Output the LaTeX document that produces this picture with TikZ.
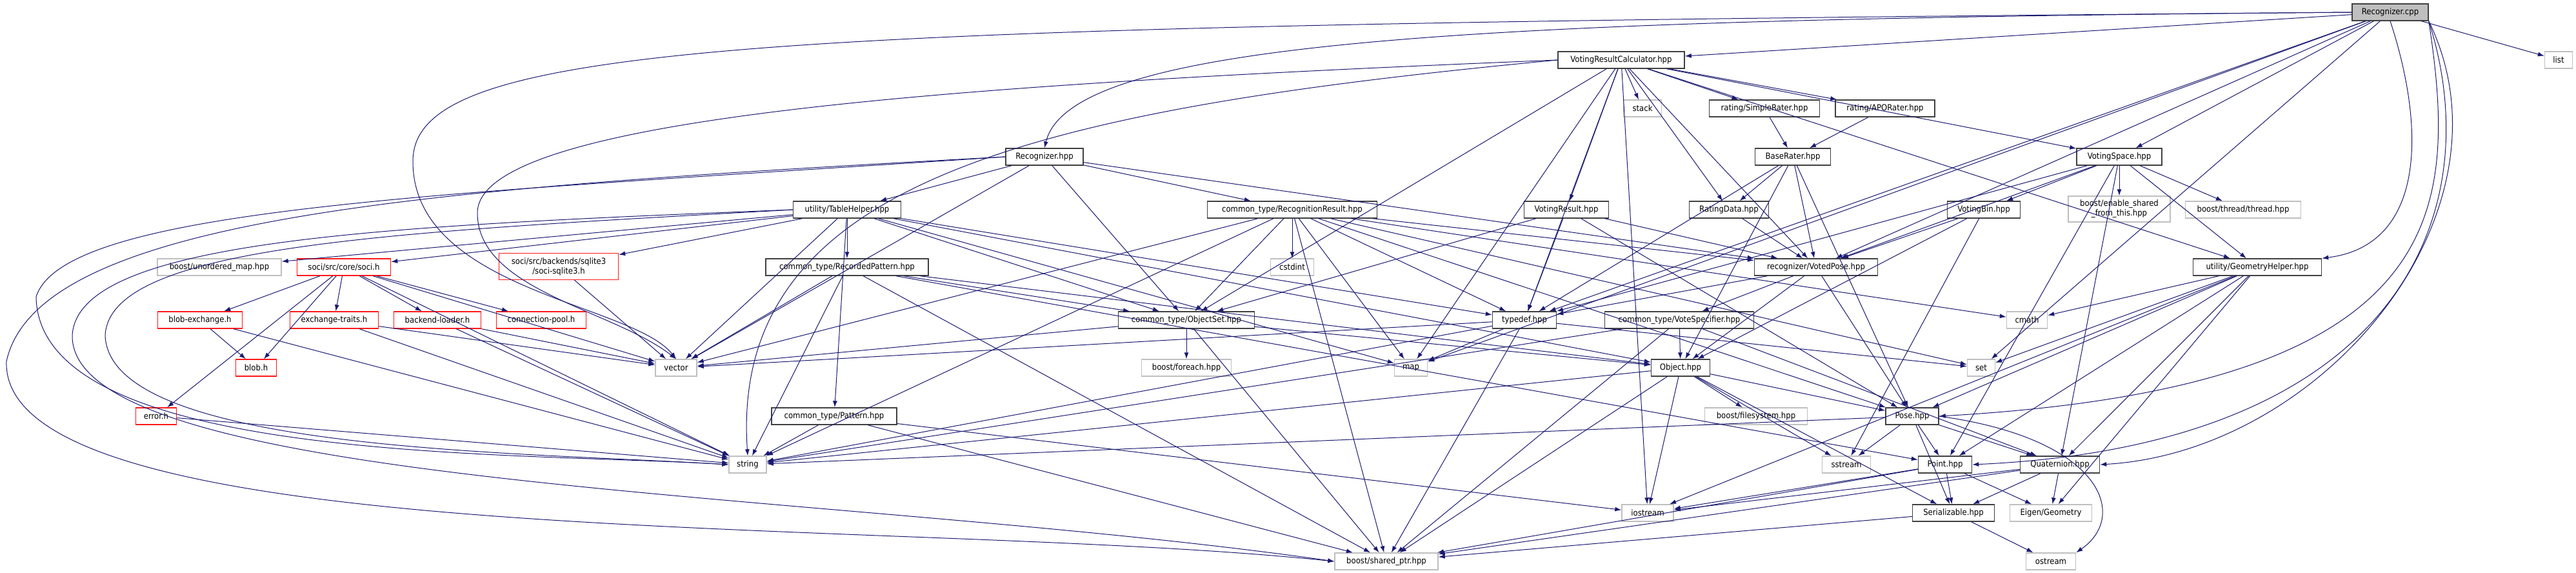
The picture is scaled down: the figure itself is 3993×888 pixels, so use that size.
\documentclass[tikz,border=0pt]{standalone}
\usepackage{fontspec}
\newfontfamily\dxfont{DejaVu Sans Condensed}
\usetikzlibrary{arrows.meta}
\definecolor{edgeblue}{HTML}{191970}
\definecolor{framegray}{HTML}{BFBFBF}
\definecolor{framedark}{HTML}{404040}
\tikzset{
  every picture/.style={font={\dxfont\fontsize{13}{15}\selectfont}, >={Latex[length=10pt,width=7pt]}},
  inc/.style={draw=edgeblue, line width=1pt, ->},
  every edge/.style={inc},
  file/.style={rectangle, draw=framedark, line width=1.4pt, inner sep=0pt,
    minimum height=26pt, align=center, fill=white},
  sysfile/.style={file, draw=framegray},
  truncfile/.style={file, draw=red!90!white},
  rootfile/.style={file, fill=framegray}}

\begin{document}
\begin{tikzpicture}[x=1pt, y=-1pt]
  \useasboundingbox (0,0) rectangle (3993,888);

  % top rows
  \node [rootfile, minimum width=118pt] (cpp) at (3705,19) {Recognizer.cpp};
  \node [sysfile, minimum width=43pt] (list) at (3966,93) {list};
  \node [file, minimum width=196pt] (vrc) at (2513,93) {VotingResultCalculator.hpp};
  \node [sysfile, minimum width=59pt] (stack) at (2546,168) {stack};
  \node [file, minimum width=171pt] (simplerater) at (2735,168) {rating/SimpleRater.hpp};
  \node [file, minimum width=154pt] (aporater) at (2922,168) {rating/APORater.hpp};
  \node [file, minimum width=117pt] (baserater) at (2779,243) {BaseRater.hpp};
  \node [file, minimum width=120pt] (recogh) at (1619,243) {Recognizer.hpp};
  \node [file, minimum width=132pt] (votingspace) at (3285,243) {VotingSpace.hpp};
  \node [file, minimum width=123pt] (ratingdata) at (2680,325) {RatingData.hpp};
  \node [file, minimum width=131pt] (votingresult) at (2428,325) {VotingResult.hpp};
  \node [file, minimum width=113pt] (votingbin) at (3075,325) {VotingBin.hpp};
  \node [sysfile, minimum width=158pt, minimum height=40pt] (sharedthis) at (3285,324)
    {boost/enable\_shared\\\_from\_this.hpp};
  \node [sysfile, minimum width=179pt] (thread) at (3477,325) {boost/thread/thread.hpp};
  \node [file, minimum width=167pt] (tablehelper) at (1313,325) {utility/TableHelper.hpp};
  \node [file, minimum width=263pt] (recresult) at (2003,325) {common\_type/RecognitionResult.hpp};

  % middle rows
  \node [file, minimum width=191pt] (votedpose) at (2815,414) {recognizer/VotedPose.hpp};
  \node [file, minimum width=199pt] (geomhelper) at (3499,414) {utility/GeometryHelper.hpp};
  \node [sysfile, minimum width=67pt] (cstdint) at (2003,414) {cstdint};
  \node [file, minimum width=252pt] (recpattern) at (1313,414) {common\_type/RecordedPattern.hpp};
  \node [sysfile, minimum width=192pt] (unorderedmap) at (340,414) {boost/unordered\_map.hpp};
  \node [truncfile, minimum width=145pt] (soci) at (533,414) {soci/src/core/soci.h};
  \node [truncfile, minimum width=185pt, minimum height=41pt] (sqlite) at (866,413)
    {soci/src/backends/sqlite3\\/soci-sqlite3.h};
  \node [truncfile, minimum width=131pt] (blobexchange) at (310,496) {blob-exchange.h};
  \node [truncfile, minimum width=137pt] (exchtraits) at (518,496) {exchange-traits.h};
  \node [truncfile, minimum width=135pt] (backendloader) at (678,496) {backend-loader.h};
  \node [truncfile, minimum width=139pt] (connpool) at (839,496) {connection-pool.h};
  \node [file, minimum width=211pt] (objectset) at (1839,496) {common\_type/ObjectSet.hpp};
  \node [file, minimum width=99pt] (typedef) at (2363,496) {typedef.hpp};
  \node [file, minimum width=231pt] (votespec) at (2603,496) {common\_type/VoteSpecifier.hpp};
  \node [sysfile, minimum width=63pt] (cmath) at (3142,496) {cmath};

  % lower rows
  \node [truncfile, minimum width=63pt] (blob) at (397,570) {blob.h};
  \node [sysfile, minimum width=64pt] (vector) at (1048,570) {vector};
  \node [sysfile, minimum width=139pt] (foreach) at (1839,570) {boost/foreach.hpp};
  \node [sysfile, minimum width=51pt] (map) at (2187,570) {map};
  \node [file, minimum width=91pt] (object) at (2605,570) {Object.hpp};
  \node [sysfile, minimum width=43pt] (set) at (3071,570) {set};
  \node [truncfile, minimum width=63pt] (error) at (242,645) {error.h};
  \node [file, minimum width=194pt] (pattern) at (1293,645) {common\_type/Pattern.hpp};
  \node [sysfile, minimum width=159pt] (filesystem) at (2722,645) {boost/filesystem.hpp};
  \node [file, minimum width=82pt] (pose) at (2964,645) {Pose.hpp};
  \node [sysfile, minimum width=58pt] (string) at (1159,720) {string};
  \node [sysfile, minimum width=75pt] (sstream) at (2862,720) {sstream};
  \node [file, minimum width=83pt] (point) at (3015,720) {Point.hpp};
  \node [file, minimum width=123pt] (quaternion) at (3193,720) {Quaternion.hpp};
  \node [sysfile, minimum width=80pt] (iostream) at (2554,795) {iostream};
  \node [file, minimum width=127pt] (serializable) at (3028,795) {Serializable.hpp};
  \node [sysfile, minimum width=127pt] (eigen) at (3179,795) {Eigen/Geometry};
  \node [sysfile, minimum width=160pt] (sharedptr) at (2149,870) {boost/shared\_ptr.hpp};
  \node [sysfile, minimum width=77pt] (ostream) at (3179,870) {ostream};

  % includes of Recognizer.cpp
  \path (cpp) edge (list) edge (vrc) edge (votingspace) edge (votedpose)
    edge (map) edge (set) edge (typedef);
  \draw [inc] (cpp.west) .. controls (2300,30) and (1660,60) .. (recogh.north);
  \draw [inc] (cpp.west) .. controls (1200,40) and (640,60) .. (640,250)
    .. controls (640,450) and (980,470) .. (vector.north);
  \draw [inc] (cpp.south) .. controls (3760,200) and (3760,380) .. (geomhelper.north east);
  \draw [inc] (cpp.south east) .. controls (3810,330) and (3800,600) .. (pose.east);
  \draw [inc] (cpp.south east) .. controls (3860,330) and (3720,690) .. (point.east);
  \draw [inc] (cpp.south east) .. controls (3910,330) and (3600,700) .. (quaternion.east);

  % headers
  \path (vrc) edge (stack) edge (simplerater) edge (aporater) edge (ratingdata)
    edge (votingresult) edge (votingspace) edge (votedpose) edge (typedef)
    edge (objectset) edge (iostream) edge (map) edge (geomhelper);
  \draw [inc] (vrc.west) .. controls (1500,130) and (740,180) .. (740,330)
    .. controls (740,450) and (950,480) .. (vector.north);
  \draw [inc] (vrc.west) .. controls (1600,170) and (1130,280) .. (string.north);
  \path (simplerater) edge (baserater);
  \path (aporater) edge (baserater);
  \path (baserater) edge (ratingdata) edge (votedpose) edge (typedef) edge (object) edge (pose);
  \path (ratingdata) edge (votedpose);
  \path (votingresult) edge (votedpose) edge (objectset) edge (typedef) edge (pose);
  \path (votingbin) edge (votedpose) edge (object) edge (sstream);
  \path (votingspace) edge (votingbin) edge (sharedthis) edge (thread) edge (votedpose)
    edge (typedef) edge (geomhelper) edge (point) edge (quaternion);
  \path (geomhelper) edge (cmath) edge (set) edge (pose) edge (point) edge (quaternion)
    edge (eigen) edge (iostream);
  \path (recogh) edge (tablehelper) edge (recresult) edge (votedpose) edge (objectset)
    edge (vector);
  \draw [inc] (recogh.west) .. controls (700,290) and (60,330) .. (10,560)
    .. controls (0,860) and (1400,800) .. (sharedptr.west);
  \draw [inc] (recogh.west) .. controls (700,300) and (100,320) .. (56,460)
    .. controls (60,720) and (800,700) .. (string.west);
  \path (tablehelper) edge (soci) edge (sqlite) edge (unorderedmap) edge (recpattern)
    edge (pattern) edge (objectset) edge (vector) edge (typedef) edge (map) edge (object);
  \draw [inc] (tablehelper.west) .. controls (600,350) and (120,370) .. (112,520)
    .. controls (110,760) and (1300,760) .. (sharedptr.west);
  \draw [inc] (tablehelper.west) .. controls (600,360) and (170,380) .. (163,520)
    .. controls (170,700) and (800,700) .. (string.west);
  \path (recresult) edge (cstdint) edge (objectset) edge (typedef) edge (votedpose)
    edge (pose) edge (vector) edge (string) edge (map) edge (sharedptr) edge (set) edge (cmath);
  \path (recpattern) edge (objectset) edge (vector) edge (string) edge (sharedptr)
    edge (point) edge (object);
  \path (pattern) edge (string) edge (sharedptr) edge (iostream);
  \path (objectset) edge (foreach) edge (object) edge (vector) edge (sharedptr);
  \path (typedef) edge (vector) edge (map) edge (set) edge (sharedptr) edge (string);
  \path (votedpose) edge (typedef) edge (votespec) edge (object) edge (pose);
  \path (votespec) edge (object) edge (string) edge (sharedptr) edge (quaternion);
  \path (object) edge (pose) edge (filesystem) edge (string) edge (sstream)
    edge (iostream) edge (serializable) edge (sharedptr);
  \path (pose) edge (point) edge (quaternion) edge (sstream) edge (serializable)
    edge (string);
  \draw [inc] (pose.east) .. controls (3260,680) and (3300,800) .. (ostream.north east);
  \path (point) edge (iostream) edge (serializable) edge (eigen) edge (sharedptr);
  \path (quaternion) edge (serializable) edge (eigen) edge (iostream) edge (sharedptr);
  \path (serializable) edge (ostream) edge (sharedptr);

  % soci
  \path (soci) edge (blobexchange) edge (exchtraits) edge (backendloader) edge (connpool)
    edge (blob) edge (error) edge (vector) edge (string);
  \path (blobexchange) edge (blob) edge (string);
  \path (exchtraits) edge (string) edge (vector);
  \path (backendloader) edge (string) edge (vector);
  \path (error) edge (string);
  \path (sqlite) edge (vector);
\end{tikzpicture}
\end{document}
